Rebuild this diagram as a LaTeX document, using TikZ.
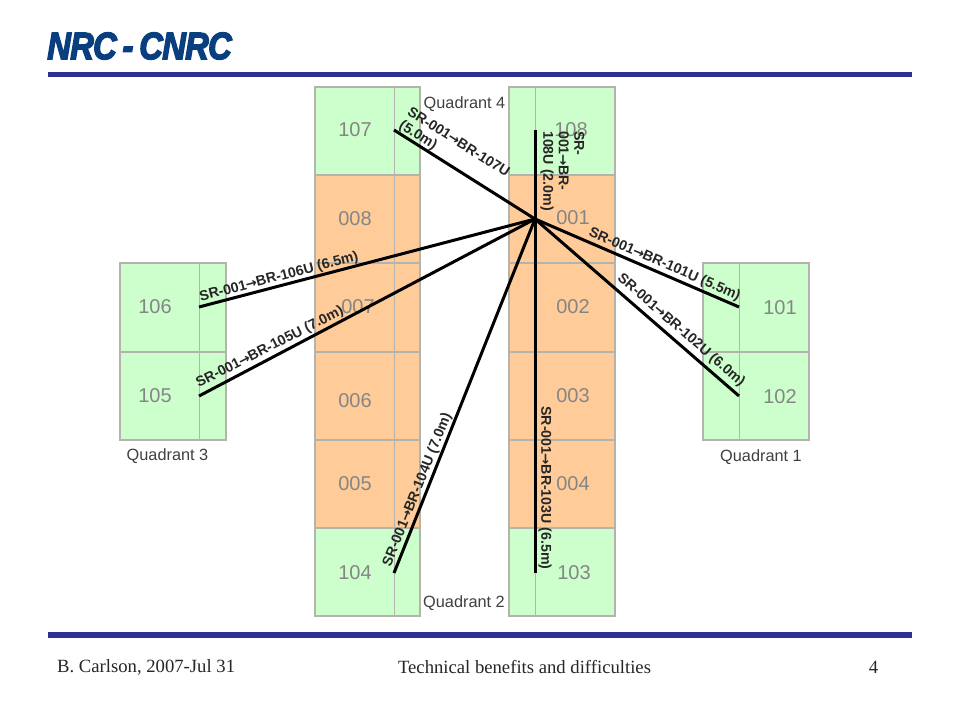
\documentclass[tikz,border=0pt]{standalone}
\usepackage{fontspec}
\setmainfont{Liberation Serif}
\setsansfont{Liberation Sans}
\newfontfamily\logofont[FakeBold=4,LetterSpace=-2]{Liberation Sans Bold Italic}
\newfontfamily\arrowfont{DejaVu Sans}
\newcommand{\rarr}{{\arrowfont\fontsize{13.5}{13.5}\selectfont\kern-0.5pt→\kern-0.5pt}}
\definecolor{barblue}{HTML}{2E3192}
\definecolor{logoblue}{HTML}{0A3F7F}
\definecolor{cellgreen}{HTML}{CCFFCC}
\definecolor{cellorange}{HTML}{FFCC99}
\definecolor{cellline}{HTML}{B4B3AC}
\definecolor{cellnum}{HTML}{858585}
\definecolor{quadtext}{HTML}{404040}
\tikzset{
  greencell/.style={fill=cellgreen,draw=cellline,line width=1.1pt},
  orangecell/.style={fill=cellorange,draw=cellline,line width=1.1pt},
  divider/.style={draw=cellline,line width=0.9pt},
  cellnumber/.style={font=\sffamily\fontsize{20}{20}\selectfont,text=cellnum,inner sep=0pt,yshift=-1pt},
  quadlabel/.style={font=\sffamily\fontsize{16.3}{18}\selectfont,text=quadtext,inner sep=0pt,yshift=-2pt},
  ray/.style={line width=3pt,black},
  raylabel/.style={font=\sffamily\fontsize{14.2}{15.5}\selectfont\bfseries,text=black!85,inner sep=0pt,align=left},
  bar/.style={fill=barblue,draw=none},
  foot/.style={font=\rmfamily\fontsize{18.67}{20}\selectfont,text=black!85,inner sep=0pt,yshift=-1pt}
}
\begin{document}
\begin{tikzpicture}[x=1pt,y=-1pt]
\useasboundingbox (0,0) rectangle (960,720);
\fill[white] (0,0) rectangle (960,720);
% bars
\fill[bar] (48,72) rectangle (912,77);
\fill[bar] (48,632) rectangle (912,638);
% logo
\node[inner sep=0pt,text=logoblue,anchor=center,xscale=0.86] (logo) at (139.5,46) {\logofont\fontsize{38}{38}\selectfont NRC\kern-3pt{ }-\kern-3pt{ }CNRC};
% left column
\foreach \a/\b in {87/175,528/616} \draw[greencell] (315,\a) rectangle (420,\b);
\foreach \a/\b in {175/263,263/352,352/440,440/528} \draw[orangecell] (315,\a) rectangle (420,\b);
\draw[divider] (394,87) -- (394,616);
% right column
\foreach \a/\b in {87/175,528/616} \draw[greencell] (509,\a) rectangle (615,\b);
\foreach \a/\b in {175/263,263/352,352/440,440/528} \draw[orangecell] (509,\a) rectangle (615,\b);
\draw[divider] (535,87) -- (535,616);
% side blocks
\foreach \a/\b in {263/352,352/440} {
  \draw[greencell] (120,\a) rectangle (226,\b);
  \draw[greencell] (703,\a) rectangle (809,\b);
}
\draw[divider] (199,263) -- (199,440);
\draw[divider] (739,263) -- (739,440);
% numbers
\node[cellnumber] (n107) at (355,129) {107};
\node[cellnumber] (n008) at (355,218) {008};
\node[cellnumber] (n007) at (358,306) {007};
\node[cellnumber] (n006) at (355,400) {006};
\node[cellnumber] (n005) at (355,483) {005};
\node[cellnumber] (n104) at (355,572) {104};
\node[cellnumber] (n108) at (571,129) {108};
\node[cellnumber] (n001) at (573,217) {001};
\node[cellnumber] (n002) at (573,306) {002};
\node[cellnumber] (n003) at (573,395) {003};
\node[cellnumber] (n004) at (573,483) {004};
\node[cellnumber] (n103) at (574,572) {103};
\node[cellnumber] (n106) at (155,306) {106};
\node[cellnumber] (n105) at (155,395) {105};
\node[cellnumber] (n101) at (780,307) {101};
\node[cellnumber] (n102) at (780,396) {102};
% quadrant labels
\node[quadlabel] (q4) at (464.5,102) {Quadrant 4};
\node[quadlabel] (q3) at (167.5,454) {Quadrant 3};
\node[quadlabel] (q1) at (761,455) {Quadrant 1};
\node[quadlabel] (q2) at (464,601) {Quadrant 2};
% connectors
\coordinate (hub) at (535,219);
\coordinate (e107) at (394,130);
\coordinate (e108) at (535,130);
\coordinate (e101) at (739,307);
\coordinate (e102) at (739,396);
\coordinate (e103) at (535,573);
\coordinate (e104) at (394,573);
\coordinate (e105) at (199,396);
\coordinate (e106) at (199,307);
\foreach \e in {e107,e108,e101,e102,e103,e104,e105,e106} \draw[ray] (hub) -- (\e);
% connector labels
\node[raylabel,rotate=-32.3,anchor=center] (l107) at (454,149.5) {SR-001\rarr BR-107U\\(5.0m)};
\node[raylabel,rotate=-90,anchor=north west] (l108) at (584.5,131) {SR-\\001\rarr BR-\\108U (2.0m)};
\node[raylabel,rotate=-23.3] (l101) at (664.5,264.5) {SR-001\rarr BR-101U (5.5m)};
\node[raylabel,rotate=-40.9] (l102) at (681,330.5) {SR-001\rarr BR-102U (6.0m)};
\node[raylabel,rotate=-90] (l103) at (545,488) {SR-001\rarr BR-103U (6.5m)};
\node[raylabel,rotate=68.2] (l104) at (417.5,490) {SR-001\rarr BR-104U (7.0m)};
\node[raylabel,rotate=27.0] (l105) at (270,347.5) {SR-001\rarr BR-105U (7.0m)};
\node[raylabel,rotate=14.7] (l106) at (279,277) {SR-001\rarr BR-106U (6.5m)};
% footer
\node[foot,anchor=west] (f1) at (57,666) {B. Carlson, 2007-Jul 31};
\node[foot] (f2) at (524.5,666) {Technical benefits and difficulties};
\node[foot] (f3) at (873.5,666) {4};
\end{tikzpicture}
\end{document}
